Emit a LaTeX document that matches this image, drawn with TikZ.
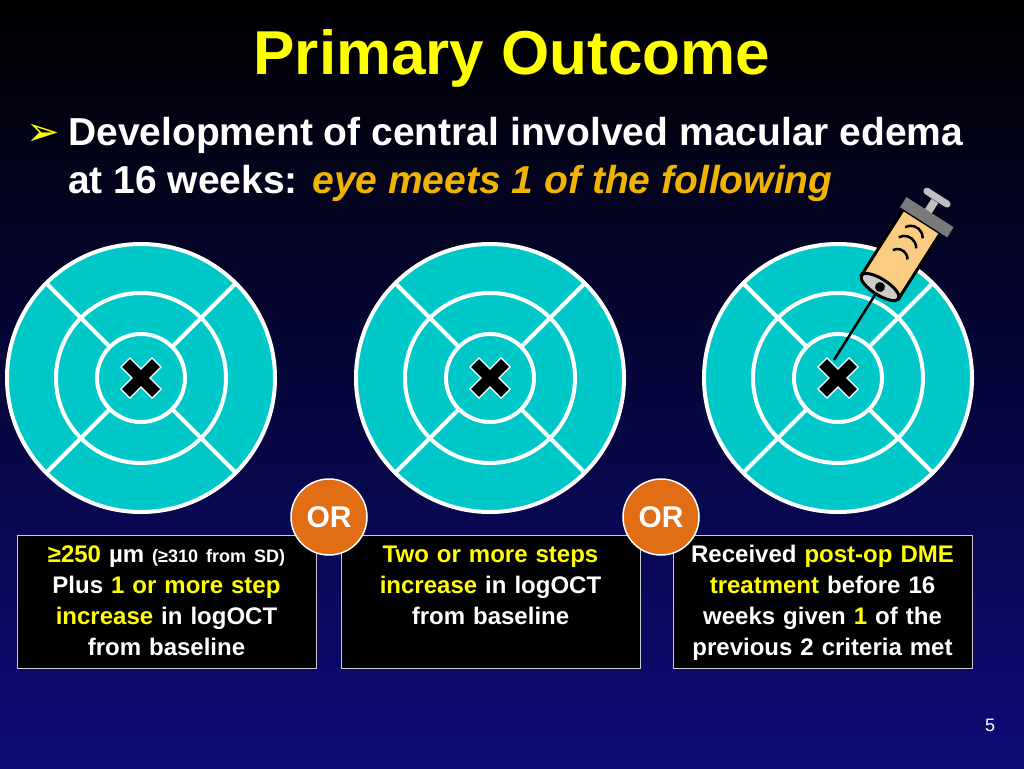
\documentclass[tikz,border=0pt]{standalone}
\usepackage{fontspec}
\usetikzlibrary{calc}
\setmainfont{Liberation Sans}
\newfontfamily\djv{DejaVu Sans}
\begin{document}
\begin{tikzpicture}[x=1pt,y=-1pt,
  ring/.style={draw=white,line width=4pt},
  boxn/.style={draw=white!80!black,fill=black,line width=0.7pt,minimum width=299pt,minimum height=133pt,anchor=north west,inner sep=0pt},
  btxt/.style={text=white,font=\bfseries\fontsize{24}{31}\selectfont,align=center,text width=298pt},
  ornode/.style={circle,fill={rgb,255:red,225;green,110;blue,20},draw=white,line width=1.5pt,minimum size=76pt,text=white,font=\bfseries\fontsize{30}{30}\selectfont,inner sep=0pt}]
\definecolor{ylw}{RGB}{255,255,0}
\definecolor{org}{RGB}{240,180,0}
\definecolor{cyn}{RGB}{0,200,200}
\shade[top color=black,bottom color={rgb,255:red,12;green,12;blue,120}] (0,0) rectangle (1024,768);
\useasboundingbox (0,0) rectangle (1024,768);
\node (title) at (512,58) {\textcolor{ylw}{\bfseries\fontsize{62}{64}\selectfont Primary Outcome}};
\node[anchor=base west,inner sep=0pt] (bul) at (26,145) {\textcolor{ylw}{\djv\fontsize{40}{40}\selectfont ➢}};
\node[anchor=base west,inner sep=0pt] (l1) at (68,145) {\textcolor{white}{\bfseries\fontsize{39}{40}\selectfont Development of central involved macular edema}};
\node[anchor=base west,inner sep=0pt] (l2) at (68,193) {\bfseries\fontsize{39}{40}\selectfont\textcolor{white}{at 16 weeks: }\textcolor{org}{\itshape eye meets 1 of the following}};
\foreach \cx/\nm in {141/a,490/b,838/c}{
  \fill[cyn] (\cx,378) circle (134);
  \draw[ring] (\cx,378) circle (134) (\cx,378) circle (85) (\cx,378) circle (44);
  \foreach \ang in {45,135,225,315}{
    \draw[ring] ($(\cx,378)+(\ang:44)$) -- ($(\cx,378)+(\ang:134)$);
  }
  \draw[white,line width=14pt] (\cx-16,362) -- (\cx+16,394) (\cx-16,394) -- (\cx+16,362);
  \draw[black,line width=11pt] (\cx-15,363) -- (\cx+15,393) (\cx-15,393) -- (\cx+15,363);
  \coordinate (x\nm) at (\cx,378);
}
% syringe
\coordinate (tip) at (834,360);
\coordinate (sb) at (880,287);
\draw[black,line width=2.5pt] (tip) -- (sb);
\begin{scope}[shift={(sb)},rotate=57.5]
  \draw[black,line width=3pt,fill={rgb,255:red,250;green,205;blue,130}] (0,-22) -- (78,-22) -- (78,22) -- (0,22) -- cycle;
  \draw[black,line width=2.5pt] (38,-9) arc (-60:60:10) (52,-11) arc (-60:60:12) (64,-11) arc (-60:60:12);
  \fill[gray!70!black!80] (78,-26) rectangle (90,30);
  \fill[gray!50] (90,-4) rectangle (102,4);
  \draw[gray!50,line width=7pt,line cap=round] (106,-12) -- (106,12);
  \draw[black,line width=3pt,fill=gray!40] (0,0) ellipse (8 and 22);
  \fill[black] (0,0) circle (5);
\end{scope}
% boxes
\node[boxn] (b1) at (17,535) {};
\node[boxn] (b2) at (341,535) {};
\node[boxn] (b3) at (673,535) {};
\node[btxt,anchor=north] (t1) at (166.5,542) {\textcolor{ylw}{≥250} µm {\fontsize{18}{31}\selectfont(≥310 from SD)}\\Plus \textcolor{ylw}{1 or more step}\\\textcolor{ylw}{increase} in logOCT\\from baseline};
\node[btxt,anchor=north] (t2) at (490.5,542) {\textcolor{ylw}{Two or more steps}\\\textcolor{ylw}{increase} in logOCT\\from baseline};
\node[btxt,anchor=north] (t3) at (822.5,542) {Received \textcolor{ylw}{post-op DME}\\\textcolor{ylw}{treatment} before 16\\weeks given \textcolor{ylw}{1} of the\\previous 2 criteria met};
\node[ornode] (or1) at (329,517) {OR};
\node[ornode] (or2) at (661,517) {OR};
\node[text=white,font=\fontsize{18}{18}\selectfont] (pg) at (990,725) {5};
\end{tikzpicture}
\end{document}
